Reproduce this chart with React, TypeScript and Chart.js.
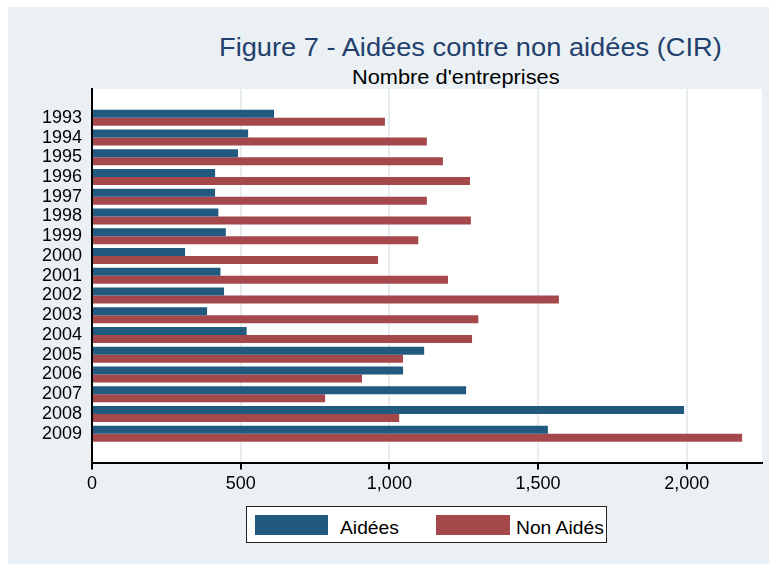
import React, { useEffect, useRef } from "react";
import { Chart, registerables } from "chart.js";

Chart.register(...registerables);

const years = ["1993","1994","1995","1996","1997","1998","1999","2000","2001","2002","2003","2004","2005","2006","2007","2008","2009"];
const aidees = [612, 525, 491, 414, 414, 425, 450, 313, 432, 444, 387, 520, 1117, 1046, 1258, 1991, 1533];
const nonAides = [985, 1126, 1180, 1271, 1126, 1274, 1097, 962, 1197, 1570, 1299, 1278, 1046, 908, 784, 1033, 2186];
const xTicks = [0, 500, 1000, 1500, 2000];

const FONT = "'Liberation Sans', Arial, Helvetica, sans-serif";
const BLUE = "#22597f";
const RED = "#a4484c";
const PANEL = "#eaf0f3";
const Y_MIN = -1.46;
const Y_MAX = 17.46;

export default function App() {
  const ref = useRef<HTMLCanvasElement | null>(null);

  useEffect(() => {
    document.body.style.margin = "0";
    const canvas = ref.current;
    if (!canvas) return;
    const whiteArea = {
      id: "whiteArea",
      beforeDraw(chart: any) {
        const { ctx, chartArea } = chart;
        ctx.save();
        ctx.fillStyle = "#ffffff";
        ctx.fillRect(chartArea.left, chartArea.top, chartArea.right - chartArea.left, chartArea.bottom - chartArea.top);
        ctx.restore();
      },
    };
    const chart = new Chart(canvas, {
      type: "bar",
      data: {
        datasets: [
          { label: "Aidées", data: aidees.map((v, i) => ({ x: v, y: i })), backgroundColor: BLUE },
          { label: "Non Aidés", data: nonAides.map((v, i) => ({ x: v, y: i })), backgroundColor: RED },
        ],
      },
      options: {
        indexAxis: "y",
        animation: false,
        responsive: false,
        maintainAspectRatio: false,
        categoryPercentage: 0.81,
        barPercentage: 1,
        layout: { padding: { left: 0, top: 89, right: 7, bottom: 0 } },
        plugins: { legend: { display: false }, tooltip: { enabled: false }, title: { display: false } },
        scales: {
          x: {
            type: "linear",
            position: "bottom",
            min: 0,
            max: 2253,
            afterBuildTicks: (s: any) => { s.ticks = xTicks.map((v) => ({ value: v })); s.min = 0; s.max = 2253; },
            afterFit: (s: any) => { s.height = 566 - 462.5; },
            grid: { color: "#e6edf1", lineWidth: 2, tickColor: "#000", tickWidth: 2, tickLength: 7 },
            border: { color: "#000", width: 2 },
            ticks: {
              color: "#000",
              font: { family: FONT, size: 18 },
              padding: 4,
              maxRotation: 0,
              callback: (v: any) => Number(v).toLocaleString("en-US"),
            },
          },
          y: {
            type: "linear",
            reverse: true,
            offset: false,
            bounds: "data",
            min: Y_MIN,
            max: Y_MAX,
            afterBuildTicks: (s: any) => { s.ticks = years.map((_, i) => ({ value: i })); s.min = Y_MIN; s.max = Y_MAX; },
            afterFit: (s: any) => { s.width = 92; },
            grid: { display: false, drawTicks: false, offset: false },
            border: { color: "#000", width: 2 },
            ticks: {
              color: "#000",
              font: { family: FONT, size: 18 },
              padding: 10,
              autoSkip: false,
              callback: (v: any) => years[Math.round(Number(v))] ?? "",
            },
          },
        },
      },
      plugins: [whiteArea],
    } as any);
    return () => chart.destroy();
  }, []);

  const abs = (o: any) => ({ position: "absolute" as const, ...o });
  const txt = (size: number, color: string, sx: number) => ({
    fontFamily: FONT, fontSize: size, lineHeight: 1, color, whiteSpace: "nowrap" as const,
    transform: `scaleX(${sx})`, transformOrigin: "left top",
  });

  return (
    <div style={abs({ left: 0, top: 0, width: 769, height: 566, background: "#fff", overflow: "hidden" })}>
      <div style={abs({ left: 8, top: 7, width: 761, height: 557, background: PANEL })} />
      <span style={{ ...abs({ left: 219, top: 34 }), ...txt(26, "#23406c", 1.048) }}>Figure 7 - Aidées contre non aidées (CIR)</span>
      <span style={{ ...abs({ left: 352, top: 67 }), ...txt(20, "#000", 1.089) }}>Nombre d'entreprises</span>
      <canvas ref={ref} width={769} height={566} style={abs({ left: 0, top: 0, width: 769, height: 566 })} />
      <div style={abs({ left: 246, top: 506, width: 359, height: 35, background: "#fff", border: "1px solid #222" })} />
      <div style={abs({ left: 255, top: 515, width: 73, height: 20, background: BLUE })} />
      <span style={{ ...abs({ left: 340, top: 519 }), ...txt(18, "#000", 1.07) }}>Aidées</span>
      <div style={abs({ left: 436, top: 515, width: 74, height: 20, background: RED })} />
      <span style={{ ...abs({ left: 516, top: 519 }), ...txt(18, "#000", 1.07) }}>Non Aidés</span>
    </div>
  );
}
